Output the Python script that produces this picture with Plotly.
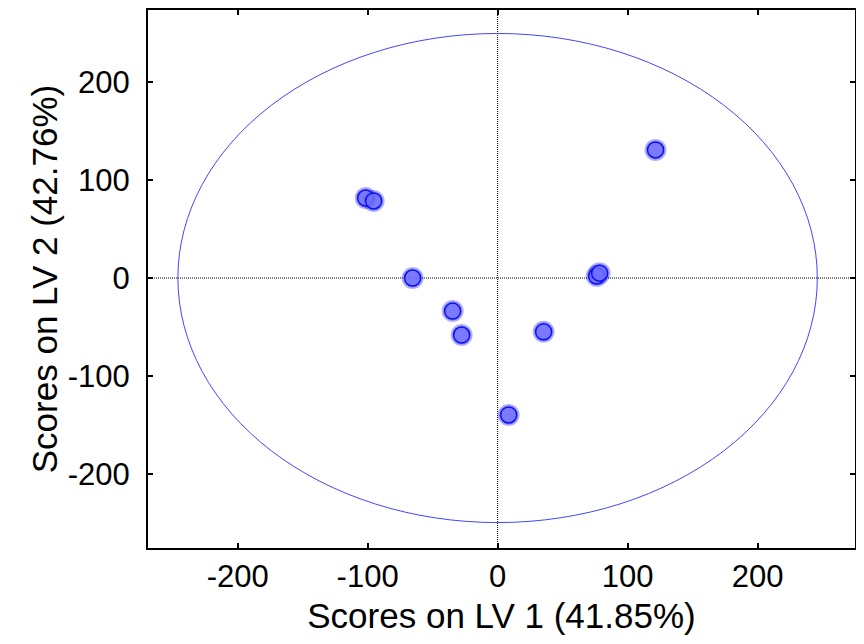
import plotly.graph_objects as go

lv1 = [121.5, -101.5, -95.4, -65.4, 76.2, 78.5, -34.6, -27.7, 35.4, 8.5]
lv2 = [131.0, 81.8, 78.8, 0.0, 2.0, 5.0, -33.8, -58.3, -55.0, -140.0]
ellipse_rx = 246
ellipse_ry = 250
x_range = [-269, 275]
y_range = [-276, 274]
tick_vals = [-200, -100, 0, 100, 200]
tick_text = ["-200", "-100", "0", "100", "200"]

fig = go.Figure()
fig.add_trace(go.Scatter(
    x=lv1, y=lv2, mode="markers",
    marker=dict(size=19, color="rgba(90,90,255,0.4)", line=dict(color="rgba(0,0,230,0.3)", width=3)),
    hoverinfo="skip", showlegend=False))
fig.add_trace(go.Scatter(
    x=lv1, y=lv2, mode="markers",
    marker=dict(size=16, color="rgba(110,110,255,0.85)", line=dict(color="#1010ee", width=1.5)),
    showlegend=False))

fig.add_shape(type="circle", xref="x", yref="y", x0=-ellipse_rx, x1=ellipse_rx,
              y0=-ellipse_ry, y1=ellipse_ry, line=dict(color="#4444ff", width=1), layer="below")
fig.add_shape(type="line", xref="x", yref="paper", x0=0, x1=0, y0=0, y1=1,
              line=dict(color="black", width=1, dash="1px,1px"), layer="below")
fig.add_shape(type="line", xref="paper", yref="y", x0=0, x1=1, y0=0, y1=0,
              line=dict(color="black", width=1, dash="1px,1px"), layer="below")

axis_common = dict(
    showgrid=False, zeroline=False, showline=True, linecolor="black", linewidth=2,
    mirror="allticks", ticks="inside", ticklen=5, tickwidth=2, tickcolor="black",
    tickvals=tick_vals, ticktext=tick_text, automargin=False,
    tickfont=dict(family="Liberation Sans, Arial", size=31, color="black"),
    title_font=dict(family="Liberation Sans, Arial", size=35, color="black"),
)
fig.update_xaxes(range=x_range, title_text="Scores on LV 1 (41.85%)", title_standoff=10, **axis_common)
fig.update_yaxes(range=y_range, title_text="Scores on LV 2 (42.76%)", title_standoff=0,
                 ticklabelstandoff=10, **axis_common)

fig.update_layout(
    width=856, height=636, plot_bgcolor="white", paper_bgcolor="white",
    margin=dict(l=140, r=9, t=2, b=96),
)
fig.write_html("out.html")
